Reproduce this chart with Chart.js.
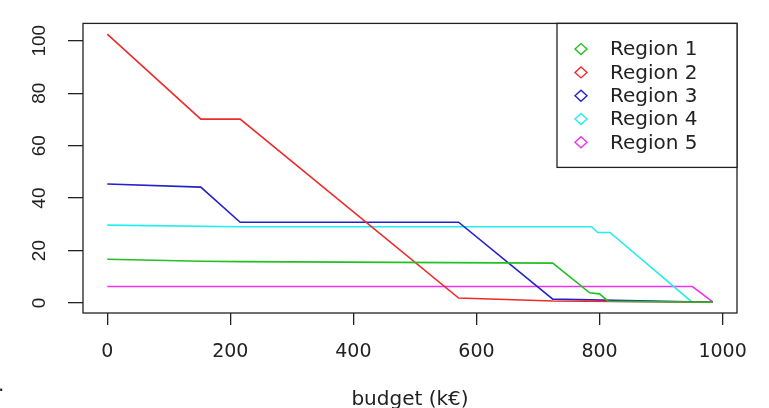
<!DOCTYPE html>
<html>
<head>
<meta charset="utf-8">
<script src="https://cdn.jsdelivr.net/npm/chart.js@4.4.1/dist/chart.umd.min.js"></script>
<style>
html,body{margin:0;padding:0;background:#fff;}
#wrap{width:769px;height:408px;position:relative;}
</style>
</head>
<body>
<div id="wrap"><canvas id="c" width="769" height="408"></canvas></div>
<script>
// ---- data ----
const seriesLabels = ['Region 1', 'Region 2', 'Region 3', 'Region 4', 'Region 5'];

const region1Budget = [0, 152, 216, 724, 784, 800, 814, 984];
const region1Value  = [16.7, 15.9, 15.8, 15.2, 3.9, 3.5, 0.7, 0.3];

const region2Budget = [0, 152, 216, 571, 724, 984];
const region2Value  = [102.5, 70.1, 70.1, 1.9, 0.8, 0.3];

const region3Budget = [0, 152, 216, 571, 724, 984];
const region3Value  = [45.4, 44.2, 30.8, 30.8, 1.5, 0.3];

const region4Budget = [0, 216, 787, 797, 817, 950, 984];
const region4Value  = [29.7, 29.1, 29.1, 26.9, 26.9, 0.4, 0.3];

const region5Budget = [0, 951, 984];
const region5Value  = [6.3, 6.3, 0.4];

const xTickValues = [0, 200, 400, 600, 800, 1000];
const yTickValues = [0, 20, 40, 60, 80, 100];
const xAxisTitle = 'budget (k€)';

// ---- styles ----
const seriesColors = ['#22c022', '#ee2a2a', '#2222cc', '#22eeee', '#ee33ee'];
const inkColor = '#222222';

const budgets = [region1Budget, region2Budget, region3Budget, region4Budget, region5Budget];
const values = [region1Value, region2Value, region3Value, region4Value, region5Value];

const datasets = seriesLabels.map((lab, i) => ({
  label: lab,
  data: budgets[i].map((b, j) => ({x: b, y: values[i][j]})),
  borderColor: seriesColors[i],
  backgroundColor: seriesColors[i],
  borderWidth: 1.6,
  showLine: true,
  pointRadius: 0,
  pointHoverRadius: 0,
  tension: 0
}));

const boxAndLegend = {
  id: 'boxAndLegend',
  afterDraw(chart) {
    const ctx = chart.ctx;
    const ca = chart.chartArea;
    ctx.save();
    ctx.strokeStyle = inkColor;
    ctx.lineWidth = 1.3;
    ctx.strokeRect(ca.left, ca.top, ca.right - ca.left, ca.bottom - ca.top);

    // legend box (top-right, inside plot)
    const lw = 180, lh = 144;
    const lx = ca.right - lw, ly = ca.top;
    ctx.fillStyle = '#ffffff';
    ctx.fillRect(lx, ly, lw, lh);
    ctx.strokeRect(lx, ly, lw, lh);
    ctx.font = '20px "DejaVu Sans"';
    ctx.textBaseline = 'middle';
    ctx.textAlign = 'left';
    chart.data.datasets.forEach((ds, i) => {
      const cy = ly + 25.7 + i * 23.3;
      const cx = lx + 24;
      ctx.beginPath();
      ctx.moveTo(cx - 6, cy);
      ctx.lineTo(cx, cy - 5.5);
      ctx.lineTo(cx + 6, cy);
      ctx.lineTo(cx, cy + 5.5);
      ctx.closePath();
      ctx.strokeStyle = ds.borderColor;
      ctx.lineWidth = 1.4;
      ctx.stroke();
      ctx.fillStyle = inkColor;
      ctx.fillText(ds.label, lx + 53, cy + 1);
    });
    ctx.font = '20px "DejaVu Sans"';
    ctx.fillStyle = inkColor;
    ctx.textAlign = 'left';
    ctx.fillText('.', -2, 386);
    ctx.restore();
  }
};

new Chart(document.getElementById('c'), {
  type: 'scatter',
  data: { datasets },
  options: {
    responsive: false,
    animation: false,
    devicePixelRatio: 1,
    layout: { padding: { top: 11, right: 32, left: 0, bottom: 0 } },
    plugins: {
      legend: { display: false },
      tooltip: { enabled: false }
    },
    scales: {
      x: {
        type: 'linear',
        min: -39.4,
        max: 1023.4,
        afterBuildTicks(scale) { scale.ticks = xTickValues.map(v => ({ value: v })); },
        afterFit(scale) { scale.height = 95; },
        border: { display: false },
        grid: { drawOnChartArea: false, drawTicks: true, tickLength: 12, color: inkColor, lineWidth: 1.3 },
        ticks: {
          autoSkip: false,
          maxRotation: 0,
          padding: 16,
          color: inkColor,
          font: { family: 'DejaVu Sans', size: 19 },
          callback: v => String(v)
        },
        title: {
          display: true,
          text: xAxisTitle,
          color: inkColor,
          font: { family: 'DejaVu Sans', size: 20, lineHeight: 1 },
          padding: { top: 0, bottom: -2 }
        }
      },
      y: {
        type: 'linear',
        min: -3.8,
        max: 106.6,
        afterBuildTicks(scale) { scale.ticks = yTickValues.map(v => ({ value: v })); },
        afterFit(scale) { scale.width = 83; },
        border: { display: false },
        grid: { drawOnChartArea: false, drawTicks: true, tickLength: 15, color: inkColor, lineWidth: 1.3 },
        ticks: {
          autoSkip: false,
          minRotation: 90,
          maxRotation: 90,
          crossAlign: 'center',
          padding: 12,
          color: inkColor,
          font: { family: 'Liberation Sans', size: 19 },
          callback: v => String(v)
        }
      }
    }
  },
  plugins: [boxAndLegend]
});
</script>
</body>
</html>
